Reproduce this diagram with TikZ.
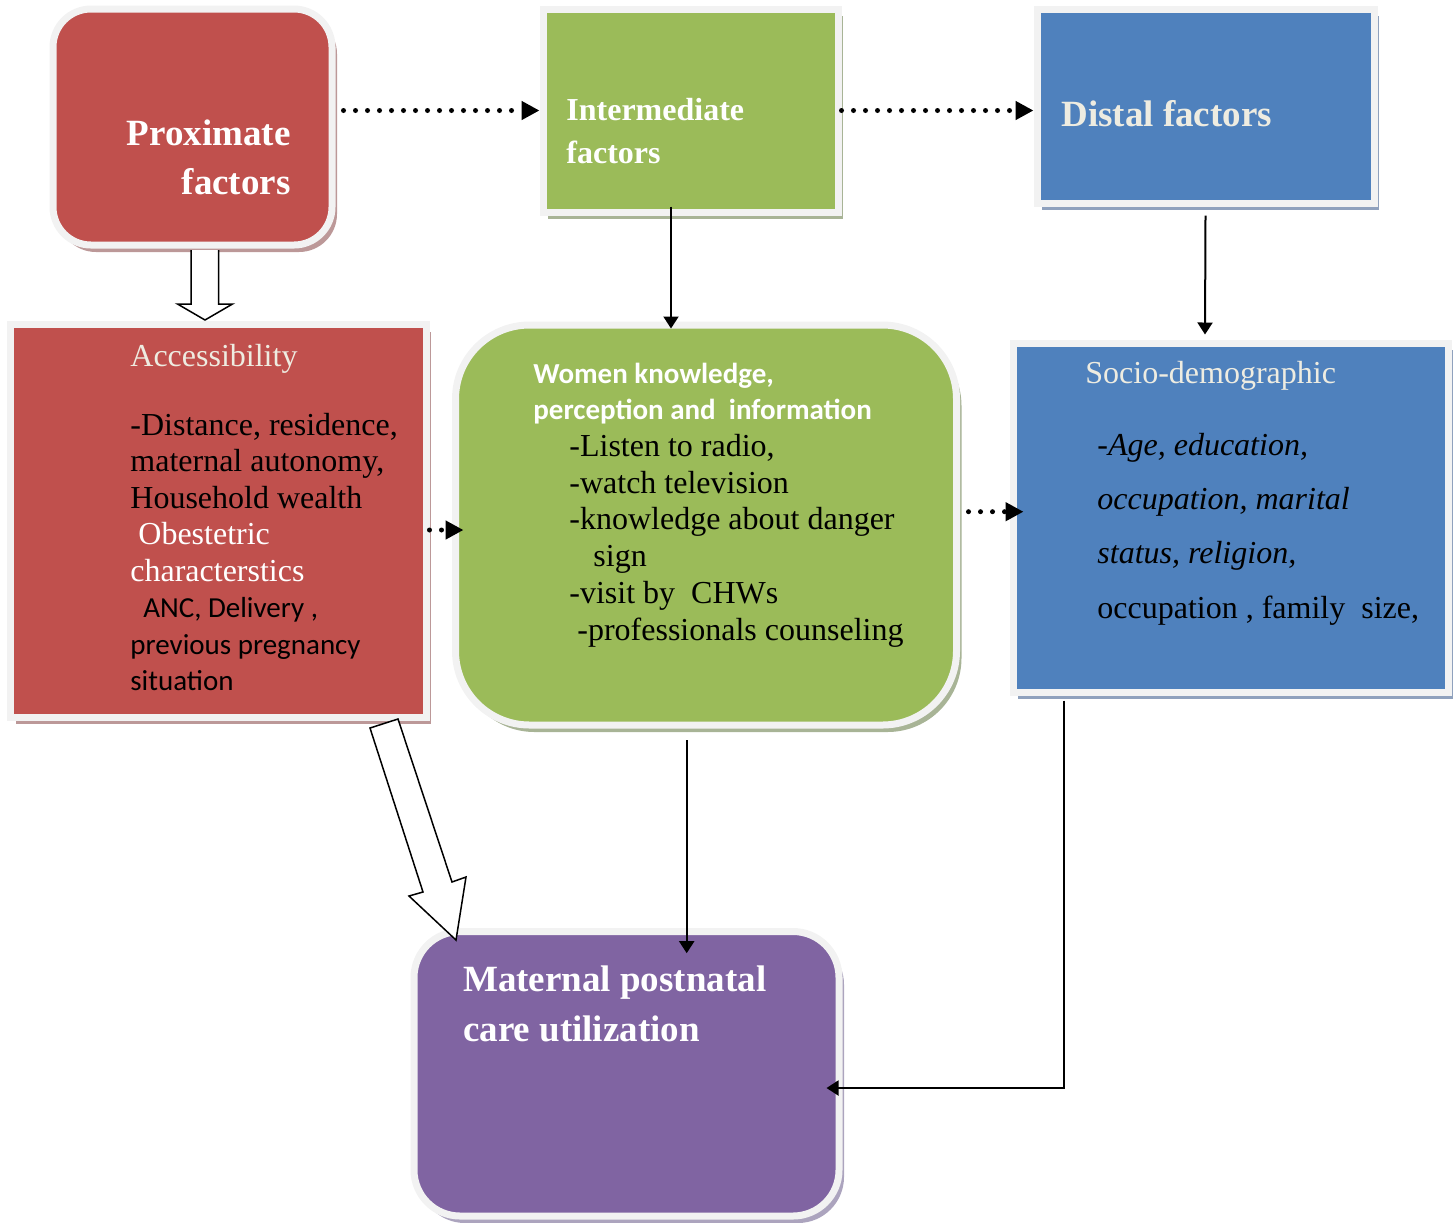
\documentclass[tikz,border=0pt]{standalone}
\usepackage{fontspec}
\setmainfont{Liberation Serif}
\newfontfamily\calibrifont{Carlito}
\usepackage{xcolor}
\usepackage{tikz}
\usetikzlibrary{arrows.meta, shadows}
\definecolor{proxcolor}{RGB}{192, 80, 77}
\definecolor{intercolor}{RGB}{155, 187, 89}
\definecolor{distalcolor}{RGB}{79, 129, 189}
\definecolor{outcomecolor}{RGB}{128, 100, 162}
\definecolor{framecolor}{RGB}{242, 242, 242}
\definecolor{creamcolor}{RGB}{238, 236, 225}
\definecolor{proxshadow}{RGB}{188, 152, 152}
\definecolor{intershadow}{RGB}{168, 180, 150}
\definecolor{distalshadow}{RGB}{143, 161, 189}
\definecolor{outcomeshadow}{RGB}{172, 164, 190}

\tikzset{
  factorbox/.style={draw=framecolor, line width=3.5pt, inner sep=0pt},
  boxshadow/.style={drop shadow={shadow xshift=2.5pt, shadow yshift=-3.5pt, fill=#1, opacity=1}},
  titletext/.style={font=\bfseries\fontsize{18.5}{24.3}\selectfont, text=white, inner sep=0pt, align=left},
  bodytext/.style={font=\fontsize{16}{18.25}\selectfont, inner sep=0pt, align=left},
  dotlink/.style={line width=2.5pt, line cap=round, dash pattern=on 0pt off 6pt, -{Triangle[length=9pt, width=9pt]}},
  solidlink/.style={line width=1pt, -{Triangle[length=6pt, width=7.5pt]}},
  fatarrow/.style={draw=black, fill=white, line width=0.75pt, line join=miter}
}

\begin{document}
\begin{tikzpicture}[x=0.5pt, y=-0.5pt]
    \useasboundingbox (0,0) rectangle (1455,1222);

    % Top row: the three factor groups (text anchored on its last line)
    \node[factorbox, fill=proxcolor, rounded corners=19pt, minimum width=139.5pt, minimum height=118pt, boxshadow=proxshadow] (prox) at (192.5,127) {};
    \node[titletext, anchor=base east, align=right] (proxtext) at (291,194.3) {Proximate\\factors};

    \node[factorbox, fill=intercolor, minimum width=147.5pt, minimum height=101.5pt, boxshadow=intershadow] (inter) at (690.5,110.5) {};
    \node[titletext, font=\bfseries\fontsize{16}{21.65}\selectfont, anchor=base west] (intertext) at (566,163.3) {Intermediate\\factors};

    \node[factorbox, fill=distalcolor, minimum width=168.5pt, minimum height=97pt, boxshadow=distalshadow] (distal) at (1205.5,106) {};
    \node[titletext, text=creamcolor, anchor=base west] (distaltext) at (1061,126) {Distal factors};

    % Middle row: the detailed factors
    \node[factorbox, fill=proxcolor, minimum width=207.75pt, minimum height=196.25pt, boxshadow=proxshadow] (access) at (218.25,520.75) {};
    \node[bodytext, text=creamcolor, anchor=base west] (accesstitle) at (130,366.7) {Accessibility};
    \node[bodytext, anchor=base west] (accesstext) at (130,690.5) {-Distance, residence,\\
        maternal autonomy,\\
        Household wealth\\
        {\color{white}\hspace*{4pt}Obestetric}\\
        {\color{white}characterstics}\\
        {\calibrifont\fontsize{14.5}{18.25}\selectfont\hspace*{6.5pt}ANC, Delivery ,}\\
        {\calibrifont\fontsize{14.5}{18.25}\selectfont previous pregnancy}\\
        {\calibrifont\fontsize{14.5}{18.25}\selectfont situation}};

    \node[factorbox, fill=intercolor, rounded corners=37pt, minimum width=250.5pt, minimum height=200pt, boxshadow=intershadow] (know) at (706,525) {};
    \node[bodytext, font=\fontsize{16}{18.35}\selectfont, anchor=base west] (knowtext) at (533,640) {{\calibrifont\bfseries\fontsize{14.5}{18.35}\selectfont\color{white}Women knowledge,}\\
        {\calibrifont\bfseries\fontsize{14.5}{18.35}\selectfont\color{white}perception and\ \ information}\\
        \hspace*{18pt}-Listen to radio,\\
        \hspace*{18pt}-watch television\\
        \hspace*{18pt}-knowledge about danger\\
        \hspace*{30pt}sign\\
        \hspace*{18pt}-visit by\ \ CHWs\\
        \hspace*{22pt}-professionals counseling};

    \node[factorbox, fill=distalcolor, minimum width=217.5pt, minimum height=174.5pt, boxshadow=distalshadow] (socio) at (1230.5,517.5) {};
    \node[bodytext, text=creamcolor, anchor=base west] (sociotitle) at (1085,383) {Socio-demographic};
    \node[bodytext, font=\fontsize{16}{27.2}\selectfont, anchor=base west] (sociotext) at (1097,618.2) {{\itshape -Age, education,}\\
        {\itshape occupation, marital}\\
        {\itshape status, religion,}\\
        occupation , family\ \ size,};

    % Bottom: outcome
    \node[factorbox, fill=outcomecolor, rounded corners=23pt, minimum width=212.5pt, minimum height=142.25pt, boxshadow=outcomeshadow] (mpnc) at (626.5,1073.75) {};
    \node[titletext, font=\bfseries\fontsize{18.5}{25}\selectfont, anchor=base west] (mpnctext) at (462.7,1041.7) {Maternal postnatal\\care utilization};

    % Dotted links
    \draw[dotlink, shorten <=4pt] ([yshift=8.25pt]prox.east) -- (inter.west);
    \draw[dotlink] (inter.east) -- ([yshift=-2.25pt]distal.west);
    \draw[dotlink] ([yshift=-4.625pt]access.east) -- ([xshift=5.75pt, yshift=-2.5pt]know.west);
    \draw[dotlink] ([xshift=4.25pt, yshift=6.65pt]know.east) -- ([xshift=7pt, yshift=2.9pt]socio.west);

    % Solid links
    \draw[solidlink] ([xshift=-9.75pt, yshift=4.5pt]inter.south) -- ([xshift=-17.5pt, yshift=-3.5pt]know.north);
    \draw[solidlink] ([yshift=-4.5pt]distal.south) -- ([xshift=-12.75pt, yshift=2.5pt]socio.north);
    \draw[solidlink] ([xshift=-9.65pt, yshift=-5.85pt]know.south) -- ([xshift=30.1pt, yshift=-12.6pt]mpnc.north);
    \draw[solidlink] ([xshift=-83.25pt, yshift=-2.5pt]socio.south) |- ([xshift=-8pt, yshift=-7.125pt]mpnc.east);

    % Block arrows
    \filldraw[fatarrow] (191,250) -- (191,304) -- (177.5,304) -- (205,320) -- (232.5,304) -- (218.5,304) -- (218.5,250);
    \filldraw[fatarrow] (370,728) -- (423,892) -- (409,896) -- (456,940) -- (466,877) -- (452,882) -- (398,719) -- cycle;
\end{tikzpicture}
\end{document}
